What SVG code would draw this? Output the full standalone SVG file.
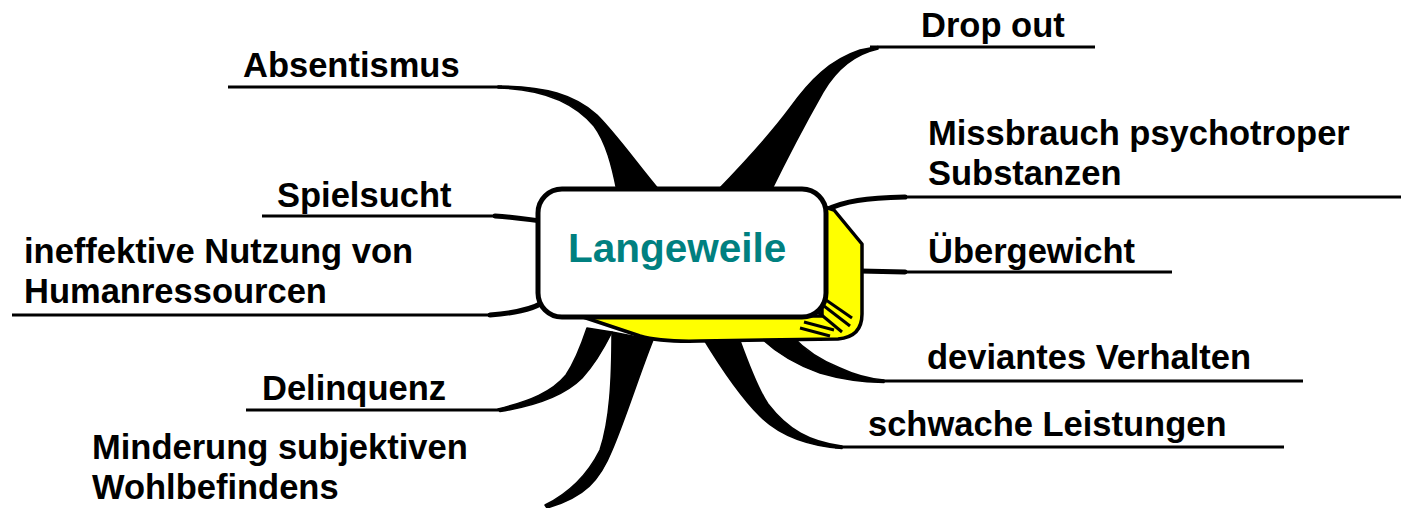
<svg xmlns="http://www.w3.org/2000/svg" width="1401" height="508" viewBox="0 0 1401 508">
<style>
.lbl{font-family:"Liberation Sans",Arial,sans-serif;font-weight:bold;font-size:34.5px;fill:#000}
.ctr{font-family:"Liberation Sans",Arial,sans-serif;font-weight:bold;font-size:40.5px;fill:#008080}
.ul{stroke:#000;stroke-width:3;fill:none}
.thk{stroke:#000;stroke-width:5;fill:none;stroke-linecap:round}
.wedge{fill:#000;stroke:#000;stroke-width:1.5;stroke-linejoin:round}
.hatch{stroke:#000;stroke-width:3;fill:none}
</style>
<rect width="1401" height="508" fill="#fff"/>
<g id="connectors">
  <!-- Absentismus -->
  <line class="ul" x1="228" y1="87" x2="502" y2="87"/>
  <path class="wedge" d="M 498,86 C 545,86 575,95 597,115 C 617,135 638,165 660,191 L 617,191 C 612,166 606,142 594,126 C 572,100 540,89 498,88 Z"/>
  <!-- Drop out -->
  <line class="ul" x1="870" y1="47" x2="1095" y2="47"/>
  <path class="wedge" d="M 717,191 C 745,162 770,135 790,108 C 810,80 830,60 860,50 L 878,46.5 L 878,49 C 855,54 836,70 823,92 C 806,122 786,160 771,191 Z"/>
  <!-- Missbrauch -->
  <line class="ul" x1="900" y1="197" x2="1401" y2="197"/>
  <path class="thk" d="M 826,210 C 845,201 865,198 905,197"/>
  <!-- Spielsucht -->
  <line class="ul" x1="262" y1="216" x2="500" y2="216"/>
  <path class="thk" d="M 495,216 C 515,217 525,219 540,221"/>
  <!-- ineffektive -->
  <line class="ul" x1="12" y1="315" x2="495" y2="315"/>
  <path class="thk" d="M 490,315 C 515,313 530,310 542,303"/>
  <!-- Übergewicht -->
  <line class="ul" x1="880" y1="272" x2="1172" y2="272"/>
  <path class="thk" d="M 860,271 L 905,272"/>
  <!-- Delinquenz -->
  <line class="ul" x1="246" y1="410" x2="502" y2="410"/>
  <path class="wedge" d="M 498,409 C 530,401 552,392 566,375 C 576,360 582,343 587,328 L 612,332 C 603,350 594,365 582,378 C 565,395 535,406 500,411.5 Z"/>
  <!-- Minderung -->
  <path class="wedge" d="M 612,332 L 653,340 C 640,372 625,420 612,450 C 600,480 585,497 547,508 L 545,505 C 575,490 590,470 600,450 C 610,420 612,380 612,332 Z"/>
  <!-- schwache -->
  <line class="ul" x1="835" y1="447" x2="1284" y2="447"/>
  <path class="wedge" d="M 703,338 L 739,338 C 747,360 757,388 768,404 C 788,430 810,442 842,446 L 842,448.5 C 810,446 780,436 760,416 C 740,396 720,366 703,338 Z"/>
  <!-- deviantes -->
  <line class="ul" x1="878" y1="381" x2="1303" y2="381"/>
  <path class="wedge" d="M 761,338 L 792,336 C 805,350 820,360 840,368 C 855,375 870,379 884,380 L 884,382.5 C 860,382 840,379 820,373 C 800,366 780,356 761,338 Z"/>
</g>
<g id="node-langeweile">
  <path d="M 580,316 L 640,336 Q 660,342 700,341 L 838,339 Q 862,337 862,314 L 862,244 L 834,210 L 822,206 L 822,316 Z" fill="#ffff00" stroke="#000" stroke-width="3.5" stroke-linejoin="round"/>
  <line class="hatch" x1="826" y1="300" x2="852" y2="318"/>
  <line class="hatch" x1="824" y1="306" x2="850" y2="326"/>
  <line class="hatch" x1="818" y1="312" x2="842" y2="332"/>
  <line class="hatch" x1="804" y1="322" x2="834" y2="330"/>
  <line class="hatch" x1="800" y1="328" x2="830" y2="336"/>
  <rect x="538" y="189" width="288" height="128" rx="24" ry="24" fill="#fff" stroke="#000" stroke-width="5"/>
  <text class="ctr" x="568" y="262">Langeweile</text>
</g>
<g id="node-dropout"><text class="lbl" x="921" y="37">Drop out</text></g>
<g id="node-absentismus"><text class="lbl" x="243" y="77">Absentismus</text></g>
<g id="node-missbrauch"><text class="lbl" x="928" y="145">Missbrauch psychotroper</text><text class="lbl" x="928" y="185">Substanzen</text></g>
<g id="node-spielsucht"><text class="lbl" x="277" y="207">Spielsucht</text></g>
<g id="node-ineffektive"><text class="lbl" x="24" y="263">ineffektive Nutzung von</text><text class="lbl" x="24" y="303">Humanressourcen</text></g>
<g id="node-uebergewicht"><text class="lbl" x="928" y="263">Übergewicht</text></g>
<g id="node-deviantes"><text class="lbl" x="927" y="369">deviantes Verhalten</text></g>
<g id="node-delinquenz"><text class="lbl" x="262" y="400">Delinquenz</text></g>
<g id="node-schwache"><text class="lbl" x="868" y="436">schwache Leistungen</text></g>
<g id="node-minderung"><text class="lbl" x="92" y="459">Minderung subjektiven</text><text class="lbl" x="92" y="499">Wohlbefindens</text></g>
</svg>
